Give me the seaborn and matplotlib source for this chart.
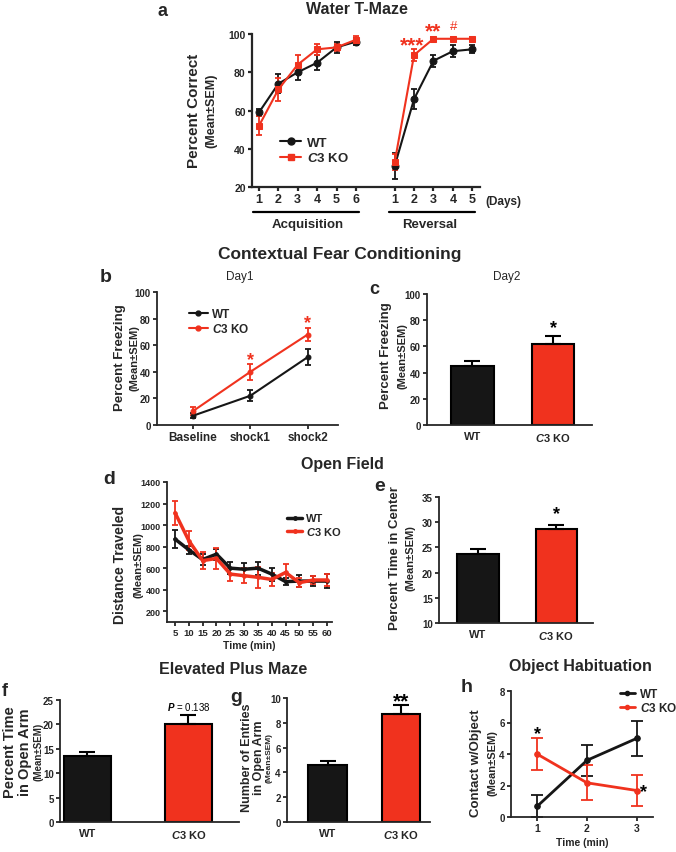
import numpy as np
import pandas as pd
import matplotlib
matplotlib.use("Agg")
import matplotlib.pyplot as plt
import seaborn as sns
from matplotlib.lines import Line2D

# ---------------- data ----------------
KO = r'$\mathit{C3}$ KO'
groups = ['WT', KO]

# a - water T-maze (percent correct)
acq_days = [1, 2, 3, 4, 5, 6]
rev_days = [1, 2, 3, 4, 5]
wt_acq = [59, 74, 80, 85, 93, 96]
wt_acq_sem = [2, 5, 4, 4, 3, 2]
ko_acq = [52, 71, 84, 92, 93, 97]
ko_acq_sem = [5, 6, 5, 3, 2, 2]
wt_rev = [31, 66, 86, 91, 92]
wt_rev_sem = [7, 5, 3, 3, 2]
ko_rev = [33, 89, 97.5, 97.5, 97.5]
ko_rev_sem = [4, 3, 1, 1, 1]

# b - fear conditioning day1
fc_stage = ['Baseline', 'shock1', 'shock2']
wt_day1 = [7, 22, 51]
wt_day1_sem = [2, 4, 6]
ko_day1 = [10.5, 40, 68]
ko_day1_sem = [3, 6, 5]

# c - fear conditioning day2
day2 = [45, 62]
day2_sem = [3.5, 6]

# d - open field distance
of_time = [5, 10, 15, 20, 25, 30, 35, 40, 45, 50, 55, 60]
wt_dist = [870, 770, 680, 730, 600, 590, 600, 545, 475, 480, 480, 480]
wt_dist_sem = [80, 40, 50, 50, 55, 60, 60, 60, 35, 55, 50, 65]
ko_dist = [1115, 855, 670, 690, 545, 530, 515, 495, 560, 465, 490, 490]
ko_dist_sem = [110, 90, 80, 100, 60, 70, 100, 60, 80, 40, 40, 55]

# e - percent time in center
center = [23.6, 28.7]
center_sem = [1.0, 0.8]

# f - percent time in open arm
open_time = [13.5, 20.0]
open_time_sem = [0.9, 2.0]

# g - entries in open arm
entries = [4.6, 8.7]
entries_sem = [0.35, 0.7]

# h - object habituation
hab_time = [1, 2, 3]
wt_hab = [0.67, 3.6, 5.0]
wt_hab_sem = [0.7, 1.0, 1.1]
ko_hab = [4.0, 2.17, 1.68]
ko_hab_sem = [1.0, 1.1, 1.0]

RED = '#F0321E'
BLK = '#161616'

# ---------------- style ----------------
sns.set_style("ticks")
plt.rcParams['font.family'] = ['Liberation Sans', 'DejaVu Sans']
plt.rcParams['font.weight'] = 'bold'
plt.rcParams['axes.labelweight'] = 'bold'
plt.rcParams['mathtext.fontset'] = 'custom'
plt.rcParams['mathtext.rm'] = 'Liberation Sans:bold'
plt.rcParams['mathtext.it'] = 'Liberation Sans:italic:bold'
plt.rcParams['mathtext.bf'] = 'Liberation Sans:bold'

W, H = 676, 853
fig = plt.figure(figsize=(W / 100, H / 100), dpi=100)


def add_ax(l, t, r, b):
    return fig.add_axes([l / W, 1 - b / H, (r - l) / W, (b - t) / H])


def ftext(x, y, s, **kw):
    kw.setdefault('ha', 'center')
    kw.setdefault('va', 'center')
    fig.text(x / W, 1 - y / H, s, **kw)


def style(ax, lw=1.3, size=7):
    sns.despine(ax=ax)
    ax.spines['left'].set_linewidth(lw)
    ax.spines['bottom'].set_linewidth(lw)
    ax.tick_params(width=lw, length=3, labelsize=size, pad=1.5)
    ax.set_xlabel('')
    ax.set_ylabel('')


def line_series(ax, x, y, err, color, marker, ms, lw, label, cap=2.5):
    sns.lineplot(x=x, y=y, color=color, marker=marker, markersize=ms,
                 markeredgecolor=color, linewidth=lw, ax=ax, label=label,
                 legend=False, clip_on=False, zorder=3)
    ax.errorbar(x, y, yerr=err, fmt='none', ecolor=color, elinewidth=1.3,
                capsize=cap, capthick=1.3, zorder=2, clip_on=False)


def bar_panel(ax, vals, sems, width):
    sns.barplot(x=groups, y=vals, hue=groups, palette=[BLK, RED], ax=ax,
                width=width, edgecolor='black', linewidth=1.5, legend=False,
                order=groups, hue_order=groups, saturation=1)
    ax.errorbar([0, 1], vals, yerr=[[0, 0], sems], fmt='none', ecolor='black',
                elinewidth=1.5, capsize=6, capthick=1.5, zorder=1)


def legend(ax, x, y, ms, lw, marker_ko, size, hl, sp):
    ax.legend(handles=[Line2D([], [], color=BLK, marker='o', ms=ms, lw=lw),
                       Line2D([], [], color=RED, marker=marker_ko, ms=ms, lw=lw)],
              labels=['WT', KO], loc='upper left', bbox_to_anchor=(x / W, 1 - y / H),
              bbox_transform=fig.transFigure, frameon=False, fontsize=size,
              handlelength=hl, handletextpad=0.4, labelspacing=sp, borderaxespad=0)


# ---------------- a ----------------
ax = add_ax(252, 35, 480, 188)
rev_x = [d + 7 for d in rev_days]
line_series(ax, acq_days, wt_acq, wt_acq_sem, BLK, 'o', 5, 1.5, 'WT')
line_series(ax, rev_x, wt_rev, wt_rev_sem, BLK, 'o', 5, 1.5, None)
line_series(ax, acq_days, ko_acq, ko_acq_sem, RED, 's', 5, 1.5, KO)
line_series(ax, rev_x, ko_rev, ko_rev_sem, RED, 's', 5, 1.5, None)
ax.set_ylim(20, 100)
ax.set_xlim(0.64, 12.4)
ax.set_yticks([20, 40, 60, 80, 100])
ax.set_xticks(acq_days + rev_x)
ax.set_xticklabels([str(d) for d in acq_days] + [str(d) for d in rev_days])
style(ax, lw=1.6, size=9)
ax.tick_params(axis='y', labelsize=7.5)
legend(ax, 275, 132, 5, 1.5, 's', 9.5, 1.6, 0.2)
tr = ax.get_xaxis_transform()
ax.plot([0.7, 6.15], [-0.165, -0.165], transform=tr, color='black', lw=1.6, clip_on=False)
ax.plot([7.7, 12.15], [-0.165, -0.165], transform=tr, color='black', lw=1.6, clip_on=False)
ftext(308, 225, 'Acquisition', fontsize=9.5)
ftext(430, 225, 'Reversal', fontsize=9.5)
ftext(503, 202, '(Days)', fontsize=8.5)
ax.text(8.88, 94.5, '***', color=RED, fontsize=15, ha='center', va='center')
ax.text(9.97, 101.5, '**', color=RED, fontsize=15, ha='center', va='center')
ax.text(11.05, 104, '#', color=RED, fontsize=9.5, ha='center', va='center', fontweight='normal')
ftext(194, 111, 'Percent Correct', fontsize=11, rotation=90)
ftext(211, 111, '(Mean±SEM)', fontsize=9, rotation=90)
ftext(357, 10, 'Water T-Maze', fontsize=11.5)
ftext(163, 11, 'a', fontsize=13)

# ---------------- b ----------------
ftext(340, 255, 'Contextual Fear Conditioning', fontsize=12.5)
ax = add_ax(157, 293, 338, 426)
stage_x = [0, 1, 2]
line_series(ax, stage_x, wt_day1, wt_day1_sem, BLK, 'o', 3.5, 1.5, 'WT')
line_series(ax, stage_x, ko_day1, ko_day1_sem, RED, 'o', 3.5, 1.5, KO)
ax.set_ylim(0, 100)
ax.set_xlim(-0.63, 2.53)
ax.set_xticks(stage_x)
ax.set_xticklabels(fc_stage)
style(ax, size=7)
ax.tick_params(axis='x', labelsize=8.5)
legend(ax, 184, 304, 3.5, 1.5, 'o', 8.5, 1.6, 0.2)
ax.text(1, 49, '*', color=RED, fontsize=13, ha='center', va='center')
ax.text(2, 77, '*', color=RED, fontsize=13, ha='center', va='center')
ftext(120, 358, 'Percent Freezing', fontsize=9.5, rotation=90)
ftext(135, 358, '(Mean±SEM)', fontsize=8, rotation=90)
ftext(240, 277, 'Day1', fontsize=8.5, fontweight='normal')
ftext(106, 278, 'b', fontsize=14)

# ---------------- c ----------------
ax = add_ax(427, 295, 592, 426)
bar_panel(ax, day2, day2_sem, 0.525)
ax.set_ylim(0, 100)
ax.set_xlim(-0.56, 1.48)
style(ax, size=7)
ax.tick_params(axis='x', length=0, labelsize=8, pad=4)
ax.text(1, 74, '*', color='black', fontsize=13, ha='center', va='center')
ftext(386, 356, 'Percent Freezing', fontsize=9.5, rotation=90)
ftext(403, 356, '(Mean±SEM)', fontsize=8, rotation=90)
ftext(507, 277, 'Day2', fontsize=8.5, fontweight='normal')
ftext(374, 290, 'c', fontsize=13)

# ---------------- d ----------------
ftext(342, 465, 'Open Field', fontsize=11.5)
ax = add_ax(167, 483, 332, 623)
line_series(ax, of_time, wt_dist, wt_dist_sem, BLK, 'o', 2.5, 2.5, 'WT', cap=2)
line_series(ax, of_time, ko_dist, ko_dist_sem, RED, 'o', 2.5, 2.5, KO, cap=2)
ax.set_ylim(100, 1400)
ax.set_xlim(2.1, 61.8)
ax.set_xticks(of_time)
ax.set_yticks([200, 400, 600, 800, 1000, 1200, 1400])
style(ax, size=6.5)
ax.tick_params(axis='x', labelsize=6.8)
ax.set_xlabel('Time (min)', fontsize=7.5, labelpad=2)
legend(ax, 283, 510, 2.5, 2.5, 'o', 8, 1.3, 0.15)
ftext(120, 565, 'Distance Traveled', fontsize=10, rotation=90)
ftext(138, 565, '(Mean±SEM)', fontsize=8, rotation=90)
ftext(109, 480, 'd', fontsize=14)

# ---------------- e ----------------
ax = add_ax(439, 498, 593, 624)
bar_panel(ax, center, center_sem, 0.53)
ax.set_ylim(10, 35)
ax.set_xlim(-0.5, 1.47)
ax.set_yticks([10, 15, 20, 25, 30, 35])
style(ax, size=7)
ax.tick_params(axis='x', length=0, labelsize=8, pad=4)
ax.text(1, 31.8, '*', color='black', fontsize=13, ha='center', va='center')
ftext(395, 558, 'Percent Time in Center', fontsize=9.5, rotation=90)
ftext(410, 558, '(Mean±SEM)', fontsize=8, rotation=90)
ftext(380, 487, 'e', fontsize=14)

# ---------------- f ----------------
ftext(233, 669, 'Elevated Plus Maze', fontsize=11.5)
ax = add_ax(60, 701, 239, 823)
bar_panel(ax, open_time, open_time_sem, 0.47)
ax.set_ylim(0, 25)
ax.set_xlim(-0.27, 1.5)
ax.set_yticks([0, 5, 10, 15, 20, 25])
style(ax, size=7)
ax.tick_params(axis='x', length=0, labelsize=8, pad=4)
ax.text(1, 23.7, r'$\mathit{P}$ = 0.138', color='black', fontsize=7,
        ha='center', va='center', fontweight='normal')
ftext(10, 752, 'Percent Time', fontsize=10.5, rotation=90)
ftext(25, 752, 'in Open Arm', fontsize=10.5, rotation=90)
ftext(39, 752, '(Mean±SEM)', fontsize=7, rotation=90)
ftext(5, 692, 'f', fontsize=13)

# ---------------- g ----------------
ax = add_ax(287, 699, 430, 823)
bar_panel(ax, entries, entries_sem, 0.52)
ax.set_ylim(0, 10)
ax.set_xlim(-0.55, 1.39)
ax.set_yticks([0, 2, 4, 6, 8, 10])
style(ax, size=7)
ax.tick_params(axis='x', length=0, labelsize=8, pad=4)
ax.text(1, 9.8, '**', color='black', fontsize=15, ha='center', va='center')
ftext(247, 758, 'Number of Entries', fontsize=9, rotation=90)
ftext(259, 758, 'in Open Arm', fontsize=9, rotation=90)
ftext(269.5, 758, '(Mean±SEM)', fontsize=6, rotation=90)
ftext(236, 697, 'g', fontsize=14)

# ---------------- h ----------------
ftext(580, 667, 'Object Habituation', fontsize=11.5)
ax = add_ax(511, 692, 653, 818)
line_series(ax, hab_time, wt_hab, wt_hab_sem, BLK, 'o', 4, 2, 'WT', cap=4)
line_series(ax, hab_time, ko_hab, ko_hab_sem, RED, 'o', 4, 2, KO, cap=4)
ax.set_ylim(0, 8)
ax.set_xlim(0.48, 3.32)
ax.set_xticks(hab_time)
ax.set_yticks([0, 2, 4, 6, 8])
style(ax, size=7)
ax.tick_params(axis='x', labelsize=7.5)
ax.set_xlabel('Time (min)', fontsize=7.5, labelpad=3)
legend(ax, 615, 684, 3, 2, 'o', 8.5, 1.3, 0.1)
ax.text(1, 5.3, '*', color='black', fontsize=13, ha='center', va='center')
ax.text(3.13, 1.6, '*', color='black', fontsize=13, ha='center', va='center')
ftext(476, 763, 'Contact w/Object', fontsize=9.5, rotation=90)
ftext(492, 763, '(Mean±SEM)', fontsize=8, rotation=90)
ftext(467, 687, 'h', fontsize=14)

fig.savefig('out.png', dpi=100)
